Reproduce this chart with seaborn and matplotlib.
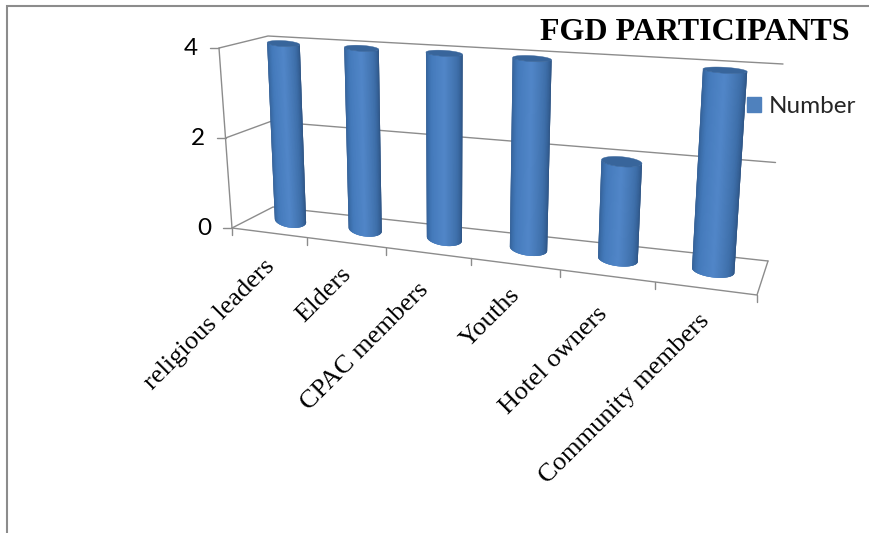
import numpy as np
import pandas as pd
import matplotlib
matplotlib.use("Agg")
import matplotlib.pyplot as plt
import seaborn as sns
from matplotlib.colors import LinearSegmentedColormap
from matplotlib.patches import Patch

categories = ["religious leaders", "Elders", "CPAC members", "Youths", "Hotel owners", "Community members"]
values = [4, 4, 4, 4, 2, 4]
y_ticks = [0, 2, 4]
series_name = "Number"
title = "FGD PARTICIPANTS"

W, H = 869, 533
GRID = "#8c8c8c"
BLUE = "#4f81bd"
shade = LinearSegmentedColormap.from_list("cyl", ["#2f5a8f", "#447abb", "#5186c8", "#3f70ab", "#2a4f7e"])

# box corners in pixels, front/back, bottom/top, left/right
FBL, FBR = np.array([232., 228.]), np.array([757., 295.])
BBL, BBR = np.array([273., 207.]), np.array([768., 261.])
FTL, FTR = np.array([219., 48.]), np.array([770., 85.])
BTL, BTR = np.array([268., 36.]), np.array([783., 64.])
PERSP = 1.2
BAR_DEPTH = 0.55
# the labels do not sit evenly under the ticks in the original
LABEL_DX = [-5, -6, -11, -6, -11, -7]
LABEL_DY = [23, 21, 26, 20, 27, 21]


def project(x, y, v=0.0):
    # category position, value, depth -> pixel position
    u = (x + 0.5) / len(categories)
    u = u / (PERSP - (PERSP - 1) * u)
    h = y / 4.0
    front = (FBL * (1 - u) + FBR * u) * (1 - h) + (FTL * (1 - u) + FTR * u) * h
    back = (BBL * (1 - u) + BBR * u) * (1 - h) + (BTL * (1 - u) + BTR * u) * h
    return front * (1 - v) + back * v


sns.set_theme(style="white")
plt.rcParams["font.family"] = ["Liberation Serif", "DejaVu Sans"]

fig = plt.figure(figsize=(W / 100, H / 100), dpi=100)
data_ax = fig.add_axes([0, 0, 1, 1])
df = pd.DataFrame({"category": categories, "value": values})
sns.barplot(data=df, x="category", y="value", width=0.43, color=BLUE, ax=data_ax)
bars = list(data_ax.patches)
data_ax.set_visible(False)

ax = fig.add_axes([0, 0, 1, 1])
ax.set_xlim(0, W)
ax.set_ylim(H, 0)
ax.axis("off")

# outer frame
ax.plot([6.5, 6.5, W], [H, 6, 6], color=GRID, lw=1.5, solid_joinstyle="miter")

# back wall lines, side and floor
x_lo, x_hi = -0.5, len(categories) - 0.5
for t in y_ticks:
    left_front, left_back = project(x_lo, t, 0), project(x_lo, t, 1)
    right_back = project(x_hi, t, 1)
    ax.plot([left_front[0], left_back[0], right_back[0]],
            [left_front[1], left_back[1], right_back[1]], color=GRID, lw=1.0, zorder=1)
    ax.plot([left_front[0] - 9, left_front[0]], [left_front[1], left_front[1]], color=GRID, lw=1.0, zorder=1)
    ax.text(left_front[0] - 21, left_front[1] + 0.5, str(t), ha="right", va="center",
            fontsize=17.5, family=["Lato", "DejaVu Sans"], color="black")

pts = np.array([project(x_lo, 0, 0), project(x_lo, 4, 0)])
ax.plot(pts[:, 0], pts[:, 1], color=GRID, lw=1.0, zorder=1)
pts = np.array([project(x_lo, 0, 0), project(x_hi, 0, 0), project(x_hi, 0, 1)])
ax.plot(pts[:, 0], pts[:, 1], color=GRID, lw=1.0, zorder=1)
for i in range(len(categories) + 1):
    p = project(i - 0.5, 0, 0)
    ax.plot([p[0], p[0]], [p[1], p[1] + 7], color=GRID, lw=1.0, zorder=1)

# cylinders, built from the bars seaborn laid out
theta = np.linspace(np.pi, 0, 61)
for bar in bars:
    x0, w, val = bar.get_x(), bar.get_width(), bar.get_height()
    cx = x0 + w / 2
    ry_base, ry_top = 7.0, 7.0 - val
    xs = cx + w / 2 * np.cos(theta)
    base = np.array([project(x, 0, BAR_DEPTH) for x in xs])
    top = np.array([project(x, val, BAR_DEPTH) for x in xs])
    base[:, 1] += ry_base * np.sin(theta)
    top[:, 1] += ry_top * np.sin(theta)
    # strips overlap the next one, no seams between them
    for k in range(len(theta) - 1):
        end = min(k + 3, len(theta) - 1)
        poly = np.vstack([top[k:end + 1], base[k:end + 1][::-1]])
        ax.fill(poly[:, 0], poly[:, 1], color=shade(k / (len(theta) - 2)), lw=0, zorder=3)
    cap_back = np.array([project(x, val, BAR_DEPTH) for x in xs])
    cap_back[:, 1] -= ry_top * np.sin(theta)
    cap = np.vstack([top, cap_back[::-1]])
    ax.fill(cap[:, 0], cap[:, 1], color="#38659b", lw=0.3, zorder=4)

# category labels
for i, name in enumerate(categories):
    p = project(i, 0, 0)
    ax.text(p[0] + LABEL_DX[i], p[1] + LABEL_DY[i], name, rotation=45, rotation_mode="anchor",
            ha="right", va="top", fontsize=19, color="black")

ax.text(850, 32, title, ha="right", va="center", fontsize=23, fontweight="bold", color="black")
ax.legend(handles=[Patch(color=BLUE, label=series_name)], loc="center left",
          bbox_to_anchor=(747 / W, 1 - 106.5 / H), frameon=False, handlelength=0.58, handleheight=0.6,
          handletextpad=0.33, borderpad=0, borderaxespad=0,
          prop={"family": ["Lato", "DejaVu Sans"], "size": 17.5})

fig.savefig("out.png", dpi=100)
